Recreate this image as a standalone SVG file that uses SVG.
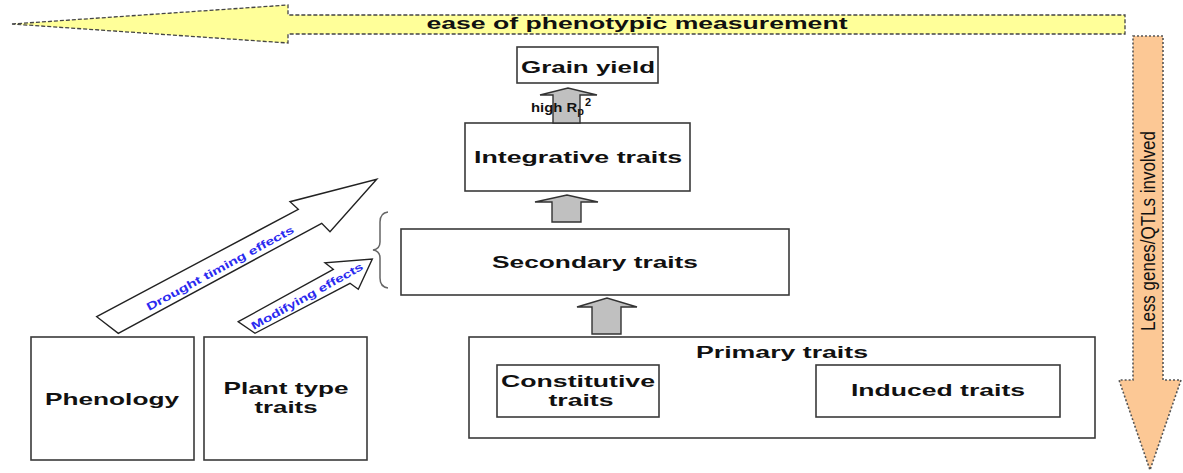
<svg xmlns="http://www.w3.org/2000/svg" width="1183" height="473" viewBox="0 0 1183 473">
<style>
  .box{fill:#fff;stroke:#3a3a3a;stroke-width:1.6}
  .lbl{font-family:"Liberation Sans",Arial,sans-serif;font-weight:bold;fill:#111;text-anchor:middle}
  .blue{font-family:"Liberation Sans",Arial,sans-serif;font-weight:bold;fill:#2a2af0;text-anchor:middle}
  .garrow{fill:#c0c0c0;stroke:#333;stroke-width:1.4}
  .warrow{fill:#fff;stroke:#222;stroke-width:1.4}
</style>
<rect width="1183" height="473" fill="#fff"/>

<g id="ease-arrow">
  <polygon points="12,24 288,5 288,15 1125,15 1125,34 288,34 288,43" fill="#ffff99" stroke="#444" stroke-width="1.3" stroke-dasharray="4,2"/>
  <text class="lbl" x="637" y="29" font-size="16" textLength="421" lengthAdjust="spacingAndGlyphs">ease of phenotypic measurement</text>
</g>

<g id="genes-arrow">
  <polygon points="1133,36 1163,36 1163,380 1181,380 1150,470 1119,380 1133,380" fill="#fcc895" stroke="#555" stroke-width="1.6" stroke-dasharray="2,2"/>
  <text x="0" y="0" transform="translate(1155,231) rotate(-90)" font-family="Liberation Sans,Arial,sans-serif" font-size="21" fill="#111" text-anchor="middle" textLength="200" lengthAdjust="spacingAndGlyphs">Less genes/QTLs involved</text>
</g>

<g id="grain-yield">
  <rect class="box" x="517" y="47" width="141" height="36"/>
  <text class="lbl" x="588" y="73" font-size="16" textLength="134" lengthAdjust="spacingAndGlyphs">Grain yield</text>
</g>

<g id="integrative">
  <rect class="box" x="465" y="123" width="225" height="68"/>
  <text class="lbl" x="578" y="163" font-size="17" textLength="208" lengthAdjust="spacingAndGlyphs">Integrative traits</text>
</g>

<g id="secondary">
  <rect class="box" x="401" y="229" width="388" height="66"/>
  <text class="lbl" x="595" y="268" font-size="17" textLength="206" lengthAdjust="spacingAndGlyphs">Secondary traits</text>
</g>

<g id="phenology">
  <rect class="box" x="31" y="337" width="163" height="123"/>
  <text class="lbl" x="112" y="405" font-size="17" textLength="134" lengthAdjust="spacingAndGlyphs">Phenology</text>
</g>

<g id="plant-type">
  <rect class="box" x="204" y="337" width="163" height="123"/>
  <text class="lbl" x="286" y="394" font-size="17" textLength="125" lengthAdjust="spacingAndGlyphs">Plant type</text>
  <text class="lbl" x="286" y="413" font-size="17" textLength="63" lengthAdjust="spacingAndGlyphs">traits</text>
</g>

<g id="primary">
  <rect class="box" x="469" y="337" width="626" height="101"/>
  <text class="lbl" x="782" y="358" font-size="16" textLength="172" lengthAdjust="spacingAndGlyphs">Primary traits</text>
</g>

<g id="constitutive">
  <rect class="box" x="497" y="365" width="162" height="52"/>
  <text class="lbl" x="578" y="387" font-size="16" textLength="154" lengthAdjust="spacingAndGlyphs">Constitutive</text>
  <text class="lbl" x="581" y="406" font-size="16" textLength="65" lengthAdjust="spacingAndGlyphs">traits</text>
</g>

<g id="induced">
  <rect class="box" x="816" y="365" width="244" height="52"/>
  <text class="lbl" x="938" y="396" font-size="16" textLength="174" lengthAdjust="spacingAndGlyphs">Induced traits</text>
</g>

<g id="connectors">
  <polygon class="garrow" points="553,123 553,95 540,95 568,88 597,95 580,95 580,123"/>
  <text transform="translate(531,112) scale(1.1,1)" font-family="Liberation Sans,Arial,sans-serif" font-weight="bold" fill="#111" font-size="13.5">high R<tspan font-size="10" dy="3">p</tspan><tspan font-size="10" dx="1" dy="-9">2</tspan></text>
  <polygon class="garrow" points="552,222 552,202 535,202 567,195 598,202 581,202 581,222"/>
  <polygon class="garrow" points="592,334 592,307 577,307 607,298 637,307 621,307 621,334"/>

  <polygon class="warrow" points="96.7,316.7 298.3,209.3 290,201.7 376.7,179.3 330,231.7 321.7,223.3 118.3,333.3"/>
  <text class="blue" transform="translate(220,268) rotate(-28.4)" font-size="11" dy="4" textLength="166" lengthAdjust="spacingAndGlyphs">Drought timing effects</text>

  <polygon class="warrow" points="238.3,321.7 333.3,269.3 325,262.7 372.3,259 358.3,289.3 350,283.3 255,333.3"/>
  <text class="blue" transform="translate(307,296) rotate(-29)" font-size="11" dy="4" textLength="126" lengthAdjust="spacingAndGlyphs">Modifying effects</text>

  <path d="M388,212 Q380,213 380,222 L380,242 Q380,249 373,250 Q380,251 380,258 L380,278 Q380,287 388,288" fill="none" stroke="#666" stroke-width="1.5"/>
</g>
</svg>
